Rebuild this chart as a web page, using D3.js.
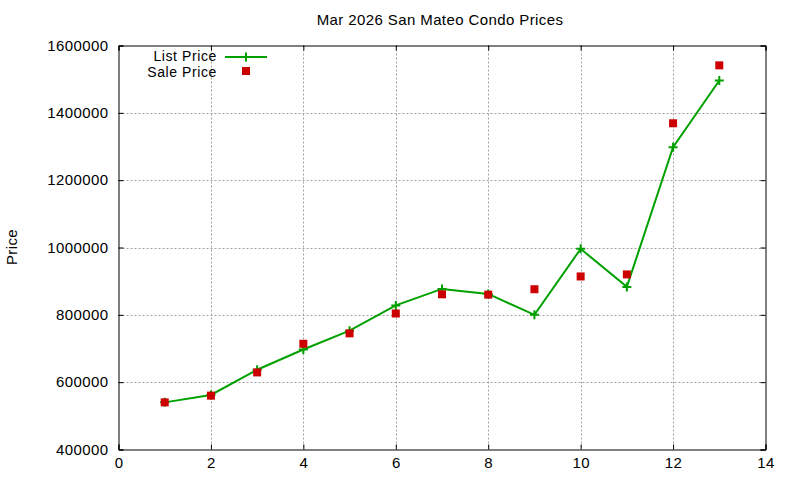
<!DOCTYPE html>
<html>
<head>
<meta charset="utf-8">
<script src="https://cdn.jsdelivr.net/npm/d3@7"></script>
<style>
  body { margin: 0; background: #fff; }
  svg { display: block; }
  text { font-family: "Liberation Sans", Arial, sans-serif; font-size: 15px; letter-spacing: 0.4px; fill: #000; }
  .legend text { font-size: 14px; letter-spacing: 0.6px; }
</style>
</head>
<body>
<svg></svg>
<script>
let months = [1, 2, 3, 4, 5, 6, 7, 8, 9, 10, 11, 12, 13]
let listPrice = [540000, 562000, 637000, 697000, 753000, 828000, 877000, 862000, 800000, 996000, 883000, 1298000, 1496000]
let salePrice = [540000, 560000, 629000, 714000, 745000, 804000, 861000, 860000, 876000, 914000, 920000, 1369000, 1541000]
let xTicks = [0, 2, 4, 6, 8, 10, 12, 14]
let yTicks = [400000, 600000, 800000, 1000000, 1200000, 1400000, 1600000]

let width = 800
let height = 480
let plotLeft = 118.5
let plotRight = 765.5
let plotTop = 45.5
let plotBottom = 449.5

let green = '#00a000'
let red = '#cc0000'

let svg = d3.select('svg')
    .attr('width', width)
    .attr('height', height)

let xScale = d3.scaleLinear().domain([0, 14]).range([plotLeft, plotRight])
let yScale = d3.scaleLinear().domain([400000, 1600000]).range([plotBottom, plotTop])

// grid
svg.append('g')
    .selectAll('line')
    .data(xTicks.slice(1, -1))
    .enter()
    .append('line')
    .attr('x1', d => Math.round(xScale(d)) + 0.5)
    .attr('x2', d => Math.round(xScale(d)) + 0.5)
    .attr('y1', plotTop)
    .attr('y2', plotBottom)
    .attr('stroke', '#a0a0a0')
    .attr('stroke-dasharray', '2,2')

svg.append('g')
    .selectAll('line')
    .data(yTicks.slice(1, -1))
    .enter()
    .append('line')
    .attr('x1', plotLeft)
    .attr('x2', plotRight)
    .attr('y1', d => Math.round(yScale(d)) + 0.5)
    .attr('y2', d => Math.round(yScale(d)) + 0.5)
    .attr('stroke', '#a0a0a0')
    .attr('stroke-dasharray', '2,2')

// axes, ticks pointing inward on all four sides
let xAxis = d3.axisBottom(xScale).tickValues(xTicks).tickSize(-5).tickPadding(8).tickFormat(d3.format('d'))
let yAxis = d3.axisLeft(yScale).tickValues(yTicks).tickSize(-5).tickPadding(10).tickFormat(d3.format('d'))

svg.append('g')
    .attr('transform', 'translate(0,' + plotBottom + ')')
    .call(xAxis)
    .call(g => g.selectAll('text').attr('font-size', null).attr('font-family', null))

svg.append('g')
    .attr('transform', 'translate(' + plotLeft + ',0)')
    .call(yAxis)
    .call(g => g.selectAll('text').attr('font-size', null).attr('font-family', null))

svg.append('g')
    .attr('transform', 'translate(0,' + plotTop + ')')
    .call(d3.axisTop(xScale).tickValues(xTicks).tickSize(-5).tickFormat(''))

svg.append('g')
    .attr('transform', 'translate(' + plotRight + ',0)')
    .call(d3.axisRight(yScale).tickValues(yTicks).tickSize(-5).tickFormat(''))

svg.selectAll('.domain').attr('stroke', '#000')
svg.selectAll('.tick line').attr('stroke', '#000')

// list price line
let line = d3.line()
    .x((d, i) => xScale(months[i]))
    .y(d => yScale(d))

svg.append('path')
    .datum(listPrice)
    .attr('d', line)
    .attr('fill', 'none')
    .attr('stroke', green)
    .attr('stroke-width', 2)

let plus = 'M-4.5,0H4.5M0,-4.5V4.5'

svg.append('g')
    .selectAll('path')
    .data(listPrice)
    .enter()
    .append('path')
    .attr('d', plus)
    .attr('transform', (d, i) => 'translate(' + xScale(months[i]) + ',' + yScale(d) + ')')
    .attr('stroke', green)
    .attr('stroke-width', 2)

// sale price squares
svg.append('g')
    .selectAll('rect')
    .data(salePrice)
    .enter()
    .append('rect')
    .attr('x', (d, i) => xScale(months[i]) - 4)
    .attr('y', d => yScale(d) - 4)
    .attr('width', 8)
    .attr('height', 8)
    .attr('fill', red)

// title and y label
svg.append('text')
    .attr('x', 440)
    .attr('y', 25)
    .attr('text-anchor', 'middle')
    .text('Mar 2026 San Mateo Condo Prices')

svg.append('text')
    .attr('transform', 'translate(17,247) rotate(-90)')
    .attr('text-anchor', 'middle')
    .text('Price')

// legend
let legend = svg.append('g').attr('class', 'legend')

legend.append('text')
    .attr('x', 217)
    .attr('y', 61)
    .attr('text-anchor', 'end')
    .text('List Price')

legend.append('line')
    .attr('x1', 225).attr('x2', 267)
    .attr('y1', 57).attr('y2', 57)
    .attr('stroke', green)
    .attr('stroke-width', 2)

legend.append('path')
    .attr('d', plus)
    .attr('transform', 'translate(246,57)')
    .attr('stroke', green)
    .attr('stroke-width', 2)

legend.append('text')
    .attr('x', 217)
    .attr('y', 77)
    .attr('text-anchor', 'end')
    .text('Sale Price')

legend.append('rect')
    .attr('x', 242).attr('y', 67)
    .attr('width', 8).attr('height', 8)
    .attr('fill', red)
</script>
</body>
</html>
